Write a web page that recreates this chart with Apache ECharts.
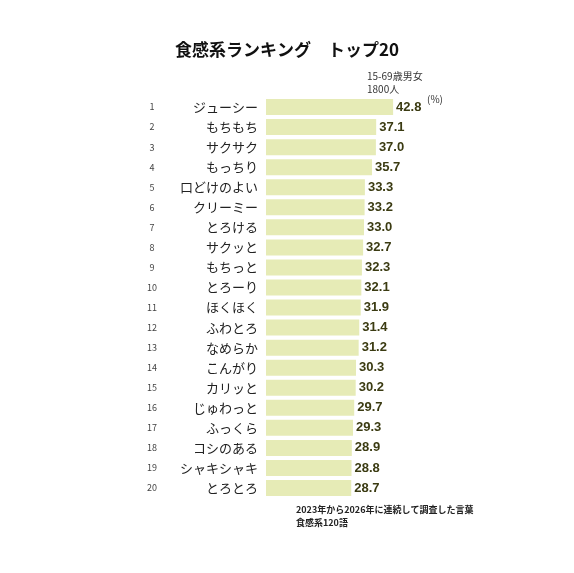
<!DOCTYPE html>
<html><head><meta charset="utf-8">
<script src="https://cdn.jsdelivr.net/npm/echarts@6/dist/echarts.min.js"></script>
<style>html,body{margin:0;background:#fff}#c{width:574px;height:573px}</style>
</head><body><div id="c"></div>
<script>
var words = ['ジューシー','もちもち','サクサク','もっちり','口どけのよい','クリーミー','とろける','サクッと','もちっと','とろーり','ほくほく','ふわとろ','なめらか','こんがり','カリッと','じゅわっと','ふっくら','コシのある','シャキシャキ','とろとろ'];
var values = [42.8,37.1,37.0,35.7,33.3,33.2,33.0,32.7,32.3,32.1,31.9,31.4,31.2,30.3,30.2,29.7,29.3,28.9,28.8,28.7];
var ranks = words.map(function (w, i) { return String(i + 1); });

var font = '"Noto Sans CJK JP", sans-serif';
var chart = echarts.init(document.getElementById('c'));
chart.setOption({
  textStyle: {fontFamily: font},
  title: {
    text: '食感系ランキング　トップ20', left: 'center', top: 36,
    textStyle: {fontSize: 17, fontWeight: 'bold', color: '#111', fontFamily: font}
  },
  graphic: [
    {type: 'text', left: 367, top: 70, style: {text: '15-69歳男女\n1800人', fontSize: 10, lineHeight: 13, fill: '#333', fontFamily: font}},
    {type: 'text', left: 427, top: 94, style: {text: '(%)', fontSize: 10, fill: '#333', fontFamily: font}},
    {type: 'text', left: 296, top: 503, style: {text: '2023年から2026年に連続して調査した言葉\n食感系120語', fontSize: 9, lineHeight: 13, fontWeight: 'bold', fill: '#222', fontFamily: font}}
  ],
  grid: {left: 266, right: 11, top: 97, bottom: 75},
  xAxis: {type: 'value', min: 0, max: 100, show: false},
  yAxis: [
    {type: 'category', data: words, inverse: true, axisLine: {show: false}, axisTick: {show: false},
     axisLabel: {fontSize: 13, color: '#222', margin: 8}},
    {type: 'category', data: ranks, inverse: true, position: 'left', axisLine: {show: false}, axisTick: {show: false},
     axisLabel: {fontSize: 9, color: '#444', margin: 114, align: 'center'}}
  ],
  series: [{
    type: 'bar', data: values, barWidth: 16,
    itemStyle: {color: '#e6ebb6'},
    label: {show: true, position: 'right', distance: 3, fontSize: 13, fontWeight: 'bold', color: '#3b3b12',
            fontFamily: '"Liberation Sans", Arial, sans-serif',
            formatter: function (p) { return p.value.toFixed(1); }}
  }]
});
</script></body></html>
